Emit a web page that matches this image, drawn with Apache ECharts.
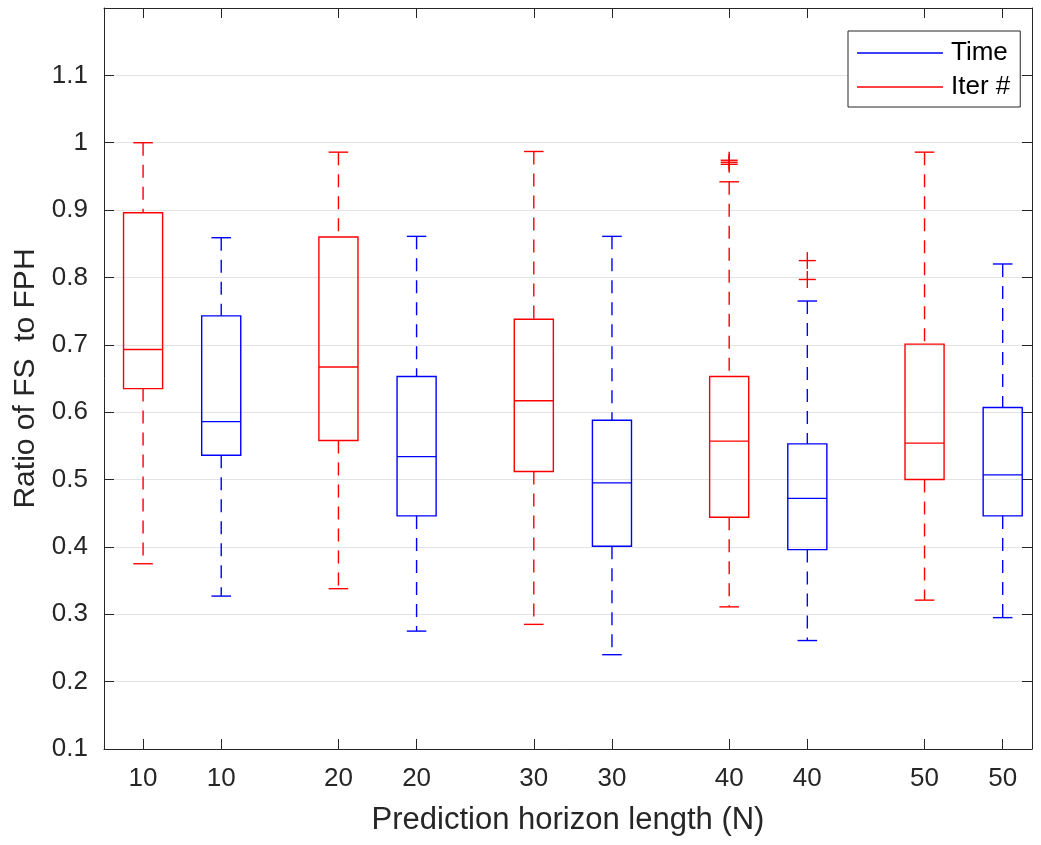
<!DOCTYPE html>
<html>
<head>
<meta charset="utf-8">
<script src="https://cdn.jsdelivr.net/npm/echarts@6/dist/echarts.min.js"></script>
<style>
html,body{margin:0;padding:0;background:#fff;}
#chart{width:1041px;height:845px;}
</style>
</head>
<body>
<div id="chart"></div>
<script>
// ---- data ----
const horizonLabels = ['10', '20', '30', '40', '50'];
const iterX = [1, 2, 3, 4, 5];
const timeX = [1.4, 2.4, 3.4, 4.4, 5.4];
// [lower whisker, Q1, median, Q3, upper whisker]
const iterStats = [
  [0.375, 0.635, 0.693, 0.896, 1.000],
  [0.338, 0.558, 0.667, 0.860, 0.986],
  [0.285, 0.512, 0.617, 0.738, 0.987],
  [0.311, 0.444, 0.557, 0.653, 0.942],
  [0.321, 0.500, 0.554, 0.701, 0.986]
];
const timeStats = [
  [0.327, 0.536, 0.586, 0.743, 0.859],
  [0.275, 0.446, 0.534, 0.653, 0.861],
  [0.240, 0.401, 0.495, 0.588, 0.861],
  [0.261, 0.396, 0.472, 0.553, 0.765],
  [0.295, 0.446, 0.507, 0.607, 0.820]
];
// [x, value]
const iterOutliers = [[4, 0.968], [4, 0.971], [4, 0.974]];
const timeOutliers = [[4.4, 0.797], [4.4, 0.825]];
const yTicks = [0.1, 0.2, 0.3, 0.4, 0.5, 0.6, 0.7, 0.8, 0.9, 1.0, 1.1];

// ---- build ----
const tickVals = [];
const tickText = {};
iterX.forEach((x, i) => { tickVals.push(x); tickText[x] = horizonLabels[i]; });
timeX.forEach((x, i) => { tickVals.push(x); tickText[x] = horizonLabels[i]; });
tickVals.sort((a, b) => a - b);

const AX = '#262626';
const FONT = 'Liberation Sans, Arial, Helvetica, sans-serif';
const LW = 1.4;

function boxData(xs, stats) {
  return xs.map((x, i) => [x].concat(stats[i]));
}

function makeBoxRender(color) {
  const solid = () => ({ stroke: color, lineWidth: LW });
  const dashed = () => ({ stroke: color, lineWidth: LW, lineDash: [13, 9] });
  return function (params, api) {
    const x = api.value(0);
    const lo = api.coord([x, api.value(1)]);
    const q1 = api.coord([x, api.value(2)]);
    const md = api.coord([x, api.value(3)]);
    const q3 = api.coord([x, api.value(4)]);
    const hi = api.coord([x, api.value(5)]);
    const bw = api.size([0.2, 0])[0];
    const cw = api.size([0.1, 0])[0];
    const cx = q1[0];
    return {
      type: 'group',
      children: [
        { type: 'line', silent: true, shape: { x1: cx, y1: hi[1], x2: cx, y2: q3[1] }, style: dashed() },
        { type: 'line', silent: true, shape: { x1: cx, y1: q1[1], x2: cx, y2: lo[1] }, style: dashed() },
        { type: 'line', silent: true, shape: { x1: cx - cw / 2, y1: hi[1], x2: cx + cw / 2, y2: hi[1] }, style: solid() },
        { type: 'line', silent: true, shape: { x1: cx - cw / 2, y1: lo[1], x2: cx + cw / 2, y2: lo[1] }, style: solid() },
        { type: 'rect', silent: true, shape: { x: cx - bw / 2, y: q3[1], width: bw, height: q1[1] - q3[1] }, style: { stroke: color, lineWidth: LW, fill: 'rgba(0,0,0,0)' } },
        { type: 'line', silent: true, shape: { x1: cx - bw / 2, y1: md[1], x2: cx + bw / 2, y2: md[1] }, style: solid() }
      ]
    };
  };
}

function plusRender(params, api) {
  const p = api.coord([api.value(0), api.value(1)]);
  const h = 8.5;
  return {
    type: 'group',
    children: [
      { type: 'line', silent: true, shape: { x1: p[0] - h, y1: p[1], x2: p[0] + h, y2: p[1] }, style: { stroke: '#ff0000', lineWidth: LW } },
      { type: 'line', silent: true, shape: { x1: p[0], y1: p[1] - h, x2: p[0], y2: p[1] + h }, style: { stroke: '#ff0000', lineWidth: LW } }
    ]
  };
}

const chart = echarts.init(document.getElementById('chart'), null, { renderer: 'canvas' });

const commonX = {
  type: 'value', min: 0.8, max: 5.55,
  axisLine: { show: true, onZero: false, lineStyle: { color: AX, width: 1 } },
  splitLine: { show: false },
  axisTick: { show: true, inside: true, length: 10, customValues: tickVals, lineStyle: { color: AX } }
};
const commonY = {
  type: 'value', min: 0.1, max: 1.2, interval: 0.1,
  axisLine: { show: true, onZero: false, lineStyle: { color: AX, width: 1 } },
  axisTick: { show: true, inside: true, length: 10, lineStyle: { color: AX } }
};

chart.setOption({
  backgroundColor: '#fff',
  animation: false,
  textStyle: { fontFamily: FONT },
  grid: { left: 104, right: 9, top: 8, bottom: 96, containLabel: false },
  legend: {
    data: ['Time', 'Iter #'],
    icon: 'rect',
    orient: 'vertical',
    left: 848, top: 31,
    backgroundColor: '#fff',
    borderColor: AX, borderWidth: 1, borderRadius: 0,
    padding: [9, 10, 7, 9],
    itemWidth: 86, itemHeight: 1.5, itemGap: 8,
    textStyle: { fontSize: 26, color: '#000', fontFamily: FONT, padding: [0, 0, 0, 3] }
  },
  xAxis: [
    Object.assign({}, commonX, {
      position: 'bottom',
      name: 'Prediction horizon length (N)',
      nameLocation: 'middle', nameGap: 56,
      nameTextStyle: { fontSize: 31, color: AX, fontFamily: FONT },
      axisLabel: {
        show: true, customValues: tickVals, margin: 17,
        fontSize: 26, color: AX, fontFamily: FONT,
        formatter: v => tickText[Math.round(v * 10) / 10] || ''
      }
    }),
    Object.assign({}, commonX, { position: 'top', axisLabel: { show: false } })
  ],
  yAxis: [
    Object.assign({}, commonY, {
      position: 'left',
      name: 'Ratio of FS  to FPH',
      nameLocation: 'middle', nameGap: 56,
      nameTextStyle: { fontSize: 30, color: AX, fontFamily: FONT },
      splitLine: { show: true, lineStyle: { color: '#e3e3e3', width: 1 } },
      axisLabel: {
        show: true, margin: 16, fontSize: 26, color: AX, fontFamily: FONT,
        customValues: yTicks,
        formatter: v => String(Math.round(v * 10) / 10)
      }
    }),
    Object.assign({}, commonY, { position: 'right', splitLine: { show: false }, axisLabel: { show: false } })
  ],
  series: [
    { name: 'Time', type: 'line', data: [], symbol: 'none', color: '#0000ff', itemStyle: { color: '#0000ff' }, lineStyle: { color: '#0000ff', width: 1 } },
    { name: 'Iter #', type: 'line', data: [], symbol: 'none', color: '#ff0000', itemStyle: { color: '#ff0000' }, lineStyle: { color: '#ff0000', width: 1 } },
    { type: 'custom', name: 'iterBoxes', renderItem: makeBoxRender('#ff0000'), data: boxData(iterX, iterStats), encode: { x: 0, y: [1, 2, 3, 4, 5] }, z: 3 },
    { type: 'custom', name: 'timeBoxes', renderItem: makeBoxRender('#0000ff'), data: boxData(timeX, timeStats), encode: { x: 0, y: [1, 2, 3, 4, 5] }, z: 3 },
    { type: 'custom', name: 'outliers', renderItem: plusRender, data: iterOutliers.concat(timeOutliers), encode: { x: 0, y: 1 }, z: 4 }
  ]
});
</script>
</body>
</html>
